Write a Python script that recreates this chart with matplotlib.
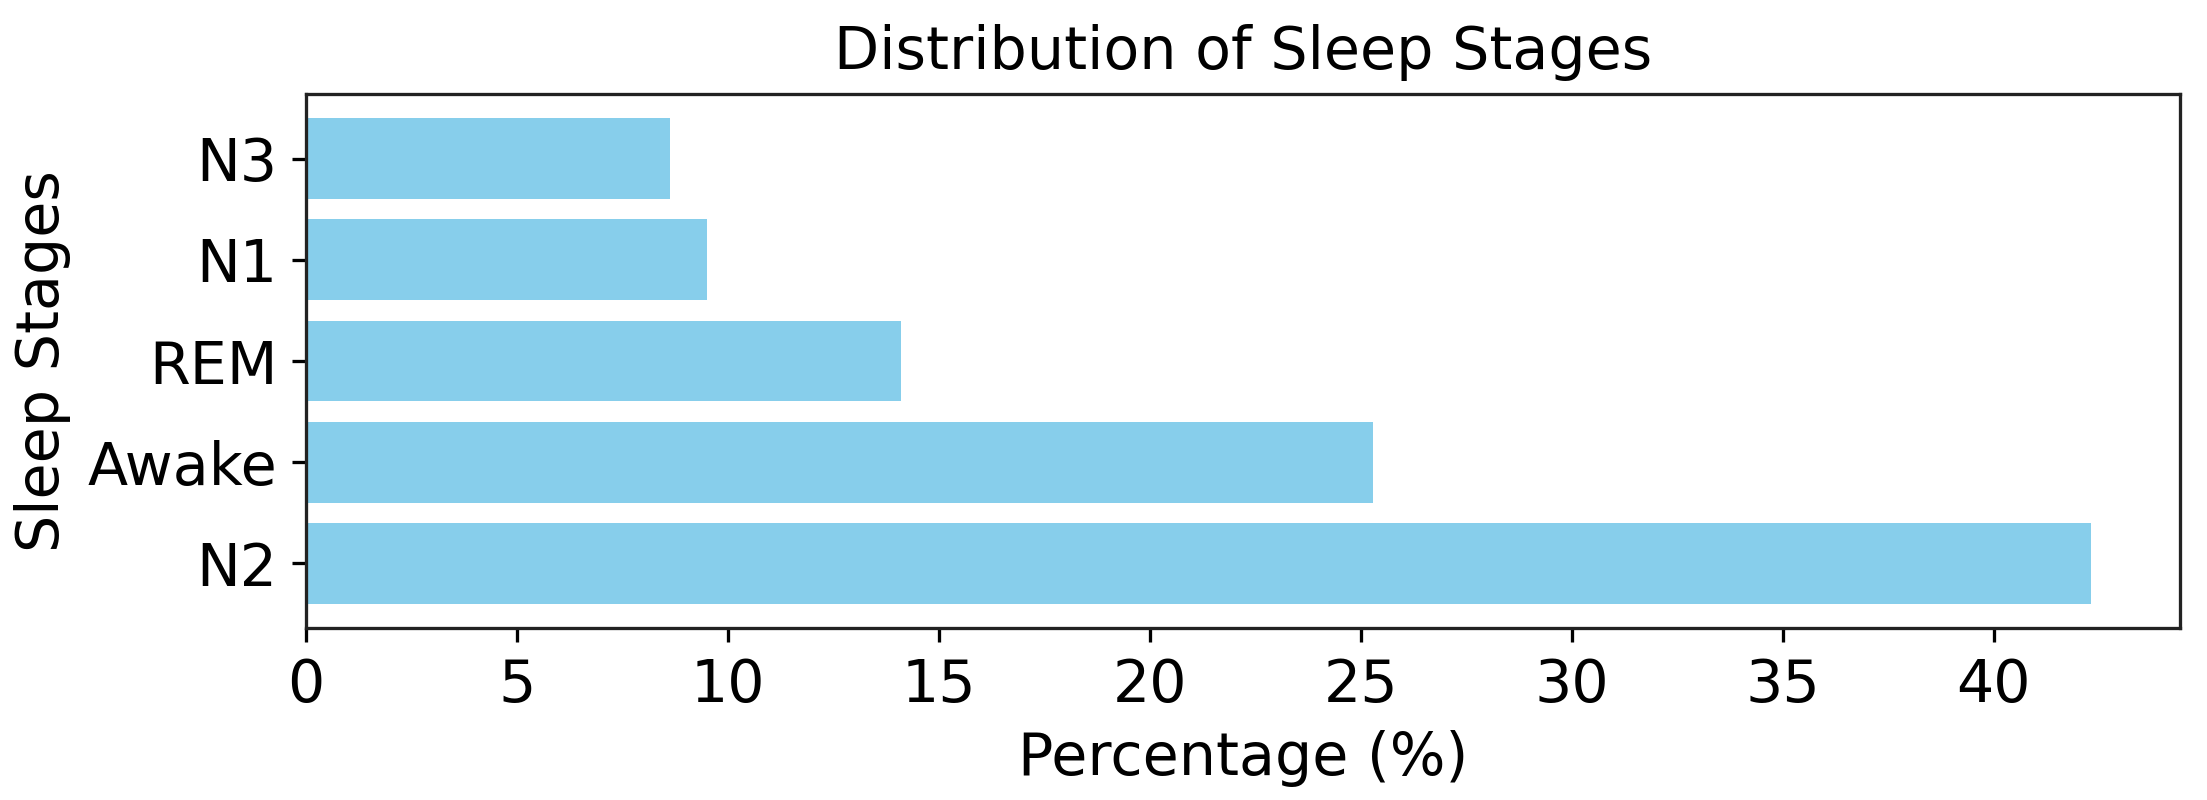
import matplotlib
matplotlib.use("Agg")
import matplotlib.pyplot as plt

stages = ["N2", "Awake", "REM", "N1", "N3"]
percentages = [42.3, 25.3, 14.1, 9.5, 8.63]

DPI = 295
FS = 14.3
fig = plt.figure(figsize=(2207 / DPI, 800 / DPI), dpi=DPI)
ax = fig.add_axes([306 / 2207, 1 - 628 / 800, (2180 - 306) / 2207, (628 - 94) / 800])

ax.barh(stages, percentages, color="skyblue")
ax.set_title("Distribution of Sleep Stages", fontsize=FS)
ax.set_xlabel("Percentage (%)", fontsize=FS)
ax.set_ylabel("Sleep Stages", fontsize=FS)
ax.tick_params(labelsize=FS)
for s in ax.spines.values():
    s.set_color("#222222")

fig.savefig("out.png", dpi=DPI)
